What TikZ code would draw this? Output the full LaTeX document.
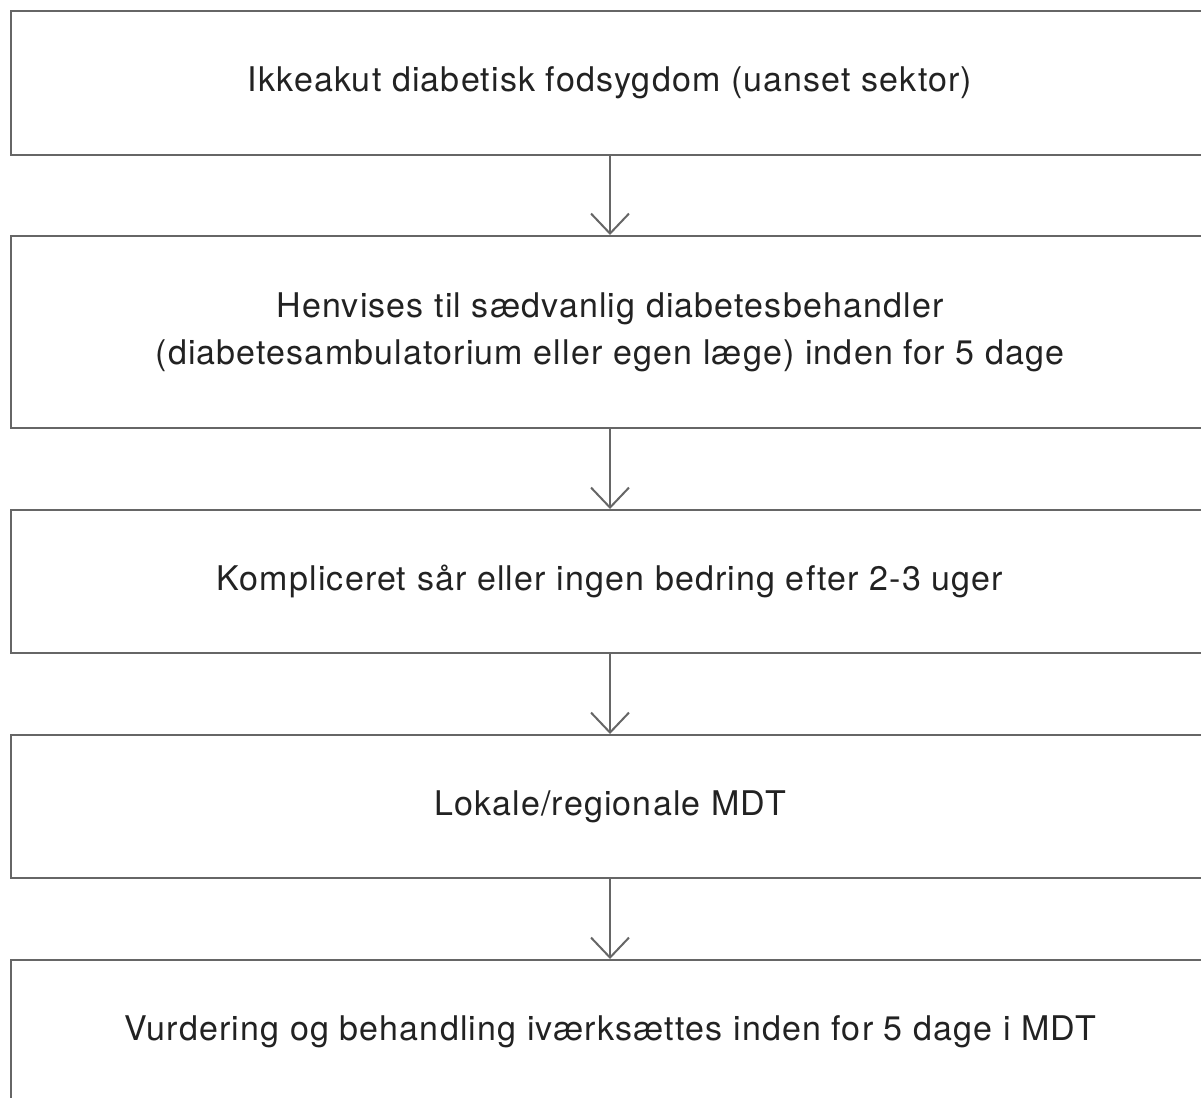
\documentclass[tikz,border=0pt]{standalone}
\usepackage{fontspec}
\setmainfont{TeX Gyre Heros}[LetterSpace=3.4]
\usetikzlibrary{arrows.meta}
\definecolor{boxline}{HTML}{666666}
\definecolor{txt}{HTML}{222222}
\tikzset{
  stepbox/.style={draw=boxline, line width=2pt, minimum width=1198pt, inner sep=0pt, align=center, text=txt, font=\fontsize{34}{47}\selectfont},
  flow/.style={draw=boxline, line width=2pt, -{Straight Barb[length=20pt,width=38pt,line width=2pt]}}
}
\begin{document}
\begin{tikzpicture}[x=1pt,y=-1pt]
\useasboundingbox (0,0) rectangle (1201,1097);
\clip (0,0) rectangle (1201,1097);
\node[stepbox, minimum height=144pt] (b1) at (610,83) {Ikkeakut diabetisk fodsygdom (uanset sektor)};
\node[stepbox, minimum height=192pt] (b2) at (610,332) {Henvises til sædvanlig diabetesbehandler\\(diabetesambulatorium eller egen læge) inden for 5 dage};
\node[stepbox, minimum height=143pt] (b3) at (610,581.5) {Kompliceret sår eller ingen bedring efter 2-3 uger};
\node[stepbox, minimum height=143pt] (b4) at (610,806.5) {Lokale/regionale MDT};
\node[stepbox, minimum height=143pt] (b5) at (610,1031.5) {Vurdering og behandling iværksættes inden for 5 dage i MDT};
\draw[flow] (b1) -- (b2);
\draw[flow] (b2) -- (b3);
\draw[flow] (b3) -- (b4);
\draw[flow] (b4) -- (b5);
\end{tikzpicture}
\end{document}
